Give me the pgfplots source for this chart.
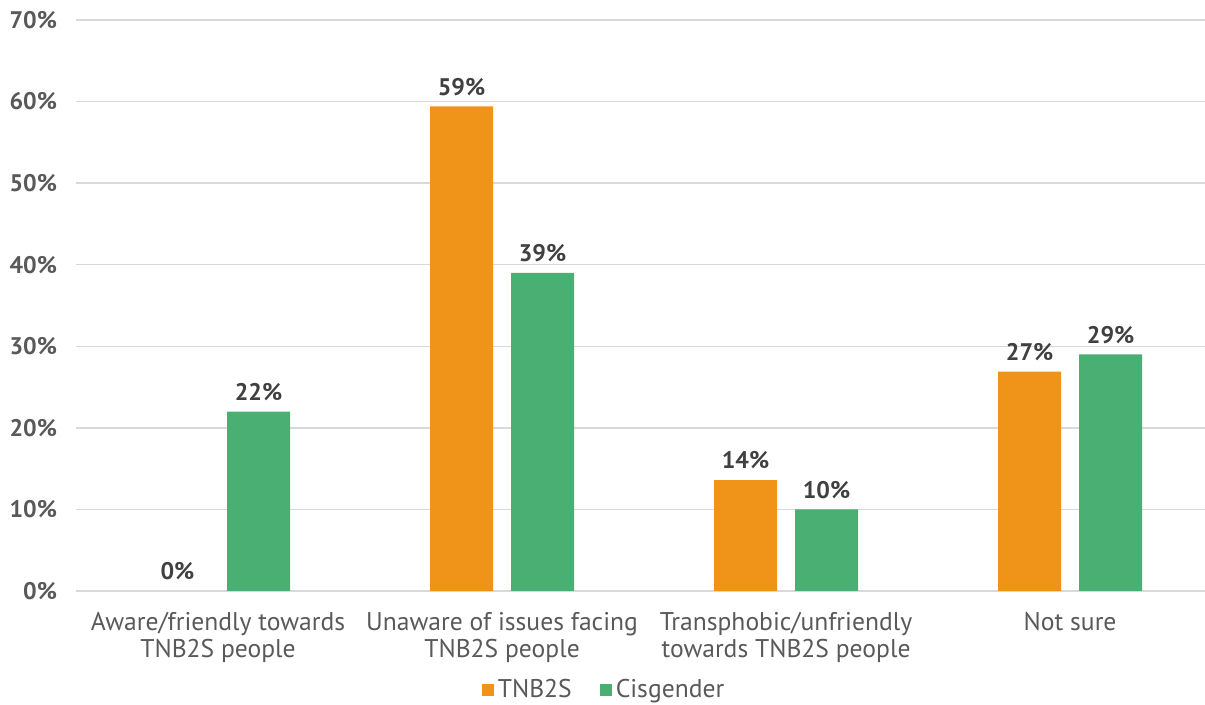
\documentclass[border=0pt]{standalone}
\usepackage{pgfplots}
\pgfplotsset{compat=1.18}
\usepackage{fontspec}
\setmainfont{PT Sans}
\definecolor{tnb}{HTML}{F09419}
\definecolor{cis}{HTML}{4AAF72}
\definecolor{gridgray}{HTML}{D9D9D9}
\definecolor{lbl}{HTML}{595959}
\definecolor{dlbl}{HTML}{404040}
\begin{document}
\begin{tikzpicture}
\begin{axis}[
  name=ax,
  scale only axis, width=564.5pt, height=285.5pt,
  ybar, bar width=31.5pt,
  xmin=-0.5, xmax=3.475, ymin=0, ymax=70,
  axis line style={draw=none},
  ymajorgrids, grid style={line width=0.75pt, gridgray},
  tick style={draw=none},
  xtick={0,1,2,3},
  xticklabels={{Aware/friendly towards\\TNB2S people},
               {Unaware of issues facing\\TNB2S people},
               {Transphobic/unfriendly\\towards TNB2S people},
               {Not sure}},
  xticklabel style={align=center, text=lbl, font={\fontsize{12.8}{13.5}\selectfont}, yshift=-3pt},
  ytick={0,10,...,70},
  yticklabels={0\%,10\%,20\%,30\%,40\%,50\%,60\%,70\%},
  yticklabel style={text=lbl, font={\fontsize{12}{14}\selectfont\bfseries}, xshift=-6pt},
  nodes near coords, point meta=explicit symbolic,
  nodes near coords style={text=dlbl, font={\fontsize{12}{14}\selectfont\bfseries}, yshift=2pt},
  legend columns=-1,
  legend style={draw=none, at={(0.4686,-0.1734)}, anchor=center,
    font={\fontsize{12.8}{14}\selectfont}, text=lbl,
    /tikz/every even column/.append style={column sep=12pt}},
  legend image code/.code={\fill[#1, draw=none] (0pt,-3pt) rectangle (6pt,3pt);},
]
\addplot[fill=tnb, draw=none, bar shift=-20.25pt] coordinates {(1,59.4)[59\%] (2,13.6)[14\%] (3,26.9)[27\%]};
\addplot[fill=cis, draw=none, bar shift=20.25pt] coordinates {(0,22)[22\%] (1,39)[39\%] (2,10)[10\%] (3,29)[29\%]};
\addplot[fill=none, draw=none, bar shift=-20.25pt, forget plot] coordinates {(0,0)[0\%]};
\legend{TNB2S, Cisgender}
\end{axis}
\pgfresetboundingbox
\path[use as bounding box] ([xshift=-38pt,yshift=-57pt]ax.south west) rectangle ([yshift=10pt]ax.north east);
\end{tikzpicture}
\end{document}
